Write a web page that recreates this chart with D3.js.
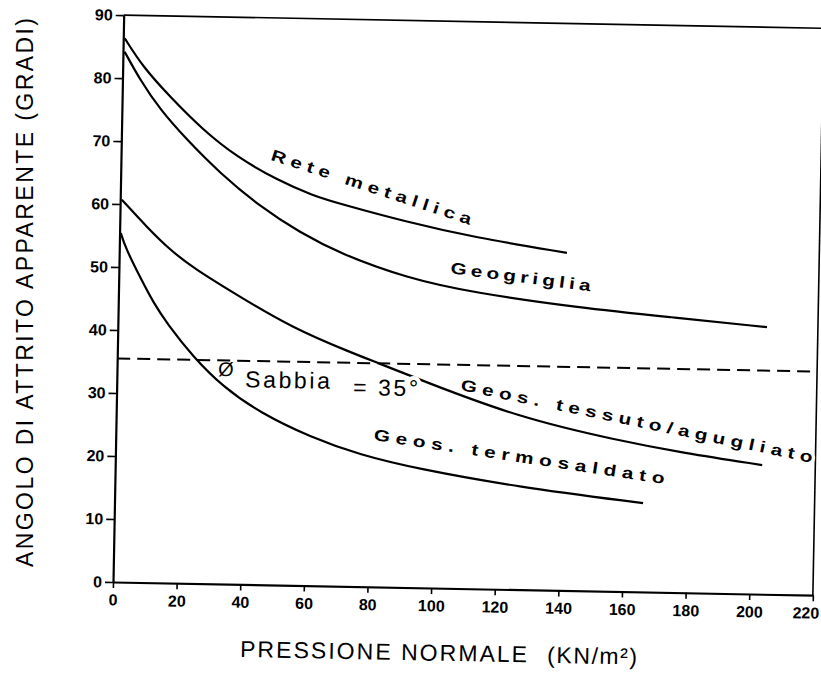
<!DOCTYPE html>
<html>
<head>
<meta charset="utf-8">
<script src="https://cdn.jsdelivr.net/npm/d3@7"></script>
<style>
  html, body { margin: 0; padding: 0; background: #fff; }
  svg { display: block; }
  text { font-family: 'Liberation Sans', Arial, sans-serif; fill: #000; }
</style>
</head>
<body>
<svg id="chart" width="821" height="673"></svg>
<script>
// ---- data ----
const xTicks = [0, 20, 40, 60, 80, 100, 120, 140, 160, 180, 200, 220];
const yTicks = [0, 10, 20, 30, 40, 50, 60, 70, 80, 90];

const reteP = [0.5, 6.4, 15, 25.6, 36.5, 49.2, 60.6, 69.1, 90.3, 111.1, 140.7];
const reteA = [86.3, 81.8, 77.2, 72.0, 67.8, 64.3, 61.9, 60.7, 58.0, 55.8, 53.6];

const geogrigliaP = [0.5, 5.5, 12, 20.6, 31.2, 44, 56.7, 69.4, 90.6, 111.4, 145.1, 173.5, 204];
const geogrigliaA = [84.2, 79.8, 75.1, 70.4, 65.2, 60.0, 56.0, 52.8, 49.1, 47.0, 44.9, 43.7, 42.4];

const tessutoP = [0.5, 8.6, 15.9, 23.3, 37.3, 55.1, 73.1, 81.7, 95.9, 126, 157.5, 178.4, 203.3];
const tessutoA = [60.7, 56.4, 52.9, 50.1, 45.9, 40.8, 37.2, 35.6, 32.9, 27.4, 24.0, 22.2, 20.5];

const termoP = [0.4, 1.8, 7.6, 10.9, 15.4, 23.8, 33.4, 45.2, 61.1, 76.9, 94.8, 126.4, 166.1];
const termoA = [55.4, 53.2, 47.6, 44.6, 41.2, 36.0, 31.3, 27.3, 23.6, 20.9, 18.9, 16.3, 14.1];

const sandAngle = 35.5;

const seriesNames = ["Rete metallica", "Geogriglia", "Geos. tessuto/agugliato", "Geos. termosaldato"];

// ---- drawing ----
const svg = d3.select("#chart");
svg.append("rect").attr("width", 821).attr("height", 673).attr("fill", "#fff");

const x = d3.scaleLinear().domain([0, 220]).range([113, 813]);
const y = d3.scaleLinear().domain([0, 90]).range([582, 15]);

// the whole figure is slightly tilted, as in the scanned original
const g = svg.append("g").attr("transform", "rotate(1.08,113,582)");

// frame (top and right)
g.append("line").attr("x1", x(0)).attr("x2", x(220)).attr("y1", y(90)).attr("y2", y(90))
  .attr("stroke", "#000").attr("stroke-width", 1.6);
g.append("line").attr("x1", x(220)).attr("x2", x(220)).attr("y1", y(90)).attr("y2", y(0))
  .attr("stroke", "#000").attr("stroke-width", 1.6);

// axes
const gx = g.append("g").attr("transform", `translate(0,${y(0)})`)
  .call(d3.axisBottom(x).tickValues(xTicks).tickSize(6).tickSizeOuter(0).tickPadding(6).tickFormat(d => String(d)));
const gy = g.append("g").attr("transform", `translate(${x(0)},0)`)
  .call(d3.axisLeft(y).tickValues(yTicks).tickSize(8).tickSizeOuter(0).tickPadding(3).tickFormat(d => String(d)));
[gx, gy].forEach(a => {
  a.select(".domain").attr("stroke", "#000").attr("stroke-width", 2.2);
  a.selectAll(".tick line").attr("stroke", "#000").attr("stroke-width", 1.6);
  a.selectAll(".tick text").attr("font-size", 16).attr("font-weight", "bold")
    .attr("font-family", "'Liberation Sans', Arial, sans-serif").attr("fill", "#000");
});
// last x label sits at the page edge: nudge it inside
gx.selectAll(".tick text").filter(d => d === 220).attr("dx", "-0.45em");

// sand reference line
g.append("line").attr("x1", x(0)).attr("x2", x(220)).attr("y1", y(sandAngle)).attr("y2", y(sandAngle))
  .attr("stroke", "#000").attr("stroke-width", 2).attr("stroke-dasharray", "13,7");

// curves
const line = d3.line().x(d => x(d[0])).y(d => y(d[1])).curve(d3.curveBasis);
const series = [
  [reteP, reteA],
  [geogrigliaP, geogrigliaA],
  [tessutoP, tessutoA],
  [termoP, termoA]
];
series.forEach(([P, A]) => {
  g.append("path").datum(P.map((p, i) => [p, A[i]]))
    .attr("d", line).attr("fill", "none").attr("stroke", "#000").attr("stroke-width", 2.2);
});

// curve labels (rotated, widely spaced, bold)
function curveLabel(txt, u, v, ang, len, size) {
  const sx = 1.3;
  g.append("text")
    .attr("transform", `translate(${x(u)},${y(v)}) rotate(${ang}) scale(${sx},1)`)
    .attr("font-size", size).attr("font-weight", "bold")
    .attr("textLength", len / sx).attr("lengthAdjust", "spacing")
    .attr("stroke", "#fff").attr("stroke-width", 5).attr("paint-order", "stroke")
    .text(txt);
}
curveLabel(seriesNames[0], 46.8, 67.5, 17, 210, 16);
curveLabel(seriesNames[1], 104.1, 50.0, 6.2, 141, 16);
curveLabel(seriesNames[2], 107.9, 31.5, 10.6, 359, 16);
curveLabel(seriesNames[3], 80.9, 23.3, 7.5, 294, 16);

// sand annotation
g.append("text").attr("x", x(34.2)).attr("y", y(33.0)).attr("text-anchor", "middle")
  .attr("font-size", 20)
  .text("Ø");
g.append("text").attr("x", x(40.3)).attr("y", y(31.3)).attr("font-size", 23)
  .attr("textLength", 85).attr("lengthAdjust", "spacing")
  .attr("stroke", "#fff").attr("stroke-width", 6).attr("paint-order", "stroke")
  .text("Sabbia");
g.append("text").attr("x", x(74.3)).attr("y", y(30.4)).attr("font-size", 23)
  .attr("textLength", 65).attr("lengthAdjust", "spacing")
  .attr("stroke", "#fff").attr("stroke-width", 8).attr("paint-order", "stroke")
  .text("= 35°");

// x axis title
g.append("text").attr("x", 241.4).attr("y", 654.6).attr("font-size", 23)
  .attr("textLength", 287).attr("lengthAdjust", "spacing").text("PRESSIONE NORMALE");
g.append("text").attr("x", 548.5).attr("y", 654.7).attr("font-size", 23)
  .attr("textLength", 90).attr("lengthAdjust", "spacing").text("(KN/m²)");

// y axis title
svg.append("text").attr("transform", "translate(33,567) rotate(-90)").attr("font-size", 23)
  .attr("textLength", 549).attr("lengthAdjust", "spacing")
  .text("ANGOLO DI ATTRITO APPARENTE (GRADI)");
</script>
</body>
</html>
